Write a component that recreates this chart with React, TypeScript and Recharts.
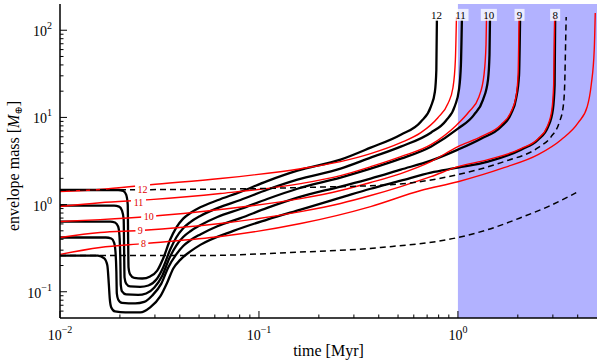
import React from 'react';
import { ComposedChart, Line, XAxis, YAxis, ReferenceArea, ReferenceDot, Label } from 'recharts';

// time [Myr] vs envelope mass [M_earth]
const black12: [number, number][] = [
  [0.01, 1.47], [0.0196, 1.47], [0.0208, 1.43], [0.0215, 1.3], [0.0219, 1.0], [0.022, 0.397],
  [0.0221, 0.19], [0.0225, 0.158], [0.0236, 0.144], [0.0259, 0.142], [0.0284, 0.15], [0.0308, 0.175],
  [0.033, 0.241], [0.0358, 0.397], [0.0384, 0.545], [0.0416, 0.691], [0.0452, 0.8], [0.0507, 0.93],
  [0.0618, 1.12], [0.0807, 1.4], [0.11, 1.86], [0.156, 2.45], [0.257, 3.28], [0.364, 4.5],
  [0.516, 6.34], [0.651, 8.93], [0.731, 13.3], [0.766, 19.7], [0.779, 35.2], [0.784, 132],
];
const black11: [number, number][] = [
  [0.01, 0.974], [0.0187, 0.974], [0.0198, 0.949], [0.0205, 0.854], [0.0209, 0.673], [0.021, 0.305],
  [0.0211, 0.146], [0.0215, 0.124], [0.0225, 0.115], [0.0253, 0.114], [0.0278, 0.118], [0.0305, 0.138],
  [0.033, 0.19], [0.0358, 0.305], [0.0384, 0.419], [0.0416, 0.535], [0.0452, 0.63], [0.0507, 0.74],
  [0.0618, 0.91], [0.0807, 1.13], [0.11, 1.48], [0.156, 1.93], [0.257, 2.58], [0.364, 3.45],
  [0.516, 4.62], [0.731, 6.68], [0.87, 9.17], [0.966, 13.6], [1.012, 20.8], [1.035, 40.1], [1.047, 132],
];
const black10: [number, number][] = [
  [0.01, 0.639], [0.0179, 0.639], [0.0189, 0.622], [0.0196, 0.56], [0.0199, 0.441], [0.0201, 0.234],
  [0.0202, 0.121], [0.0205, 0.101], [0.0215, 0.0931], [0.0247, 0.0919], [0.0271, 0.0956], [0.0298, 0.112],
  [0.0327, 0.154], [0.0354, 0.241], [0.0384, 0.339], [0.0416, 0.425], [0.0452, 0.495], [0.0507, 0.58],
  [0.0618, 0.72], [0.0807, 0.89], [0.11, 1.16], [0.156, 1.52], [0.257, 2.04], [0.364, 2.58],
  [0.516, 3.36], [0.731, 4.62], [1.0, 7.42], [1.204, 10.7], [1.336, 15.9], [1.416, 27.0], [1.441, 52.3],
  [1.449, 132],
];
const black9: [number, number][] = [
  [0.01, 0.419], [0.017, 0.419], [0.0181, 0.408], [0.0187, 0.367], [0.019, 0.289], [0.0192, 0.171],
  [0.0193, 0.0956], [0.0196, 0.0816], [0.0205, 0.0744], [0.0239, 0.0734], [0.0265, 0.0764], [0.0291, 0.0907],
  [0.0323, 0.124], [0.035, 0.19], [0.0384, 0.268], [0.0416, 0.335], [0.0452, 0.39], [0.0507, 0.455],
  [0.0618, 0.565], [0.0807, 0.7], [0.11, 0.915], [0.156, 1.2], [0.257, 1.61], [0.364, 1.99],
  [0.516, 2.52], [0.731, 3.19], [1.0, 4.27], [1.306, 5.7], [1.647, 7.83], [1.849, 11.0], [1.96, 16.4],
  [2.029, 30.8], [2.053, 132],
];
const black8: [number, number][] = [
  [0.01, 0.26], [0.0155, 0.26], [0.0167, 0.241], [0.0173, 0.2], [0.0176, 0.121], [0.0178, 0.0816],
  [0.0181, 0.0661], [0.0189, 0.0595], [0.0213, 0.0579], [0.0253, 0.0579], [0.0284, 0.0661], [0.0319, 0.0884],
  [0.0346, 0.128], [0.0371, 0.185], [0.0402, 0.232], [0.0452, 0.29], [0.0507, 0.345], [0.0744, 0.5],
  [0.11, 0.673], [0.162, 0.877], [0.257, 1.2], [0.364, 1.52], [0.516, 1.88], [0.731, 2.33],
  [1.0, 2.65], [1.416, 3.11], [2.077, 4.27], [2.529, 5.55], [2.841, 7.83], [3.0, 12.2], [3.063, 23.7],
  [3.081, 132],
];

const red12: [number, number][] = [
  [0.01, 1.41], [0.0159, 1.49], [0.0284, 1.69], [0.064, 1.99], [0.162, 2.58], [0.257, 3.11],
  [0.364, 3.84], [0.516, 5.13], [0.651, 6.68], [0.793, 9.92], [0.891, 14.4], [0.944, 21.9],
  [0.971, 45.8], [0.983, 142],
];
const red11: [number, number][] = [
  [0.01, 0.949], [0.0159, 1.05], [0.0284, 1.14], [0.064, 1.34], [0.162, 1.74], [0.257, 2.15],
  [0.364, 2.72], [0.516, 3.55], [0.731, 4.87], [0.977, 8.04], [1.136, 11.6], [1.276, 17.3],
  [1.352, 30.8], [1.384, 68.0], [1.392, 142],
];
const red10: [number, number][] = [
  [0.01, 0.639], [0.0159, 0.673], [0.0278, 0.729], [0.064, 0.877], [0.162, 1.17], [0.257, 1.45],
  [0.364, 1.79], [0.516, 2.27], [0.731, 3.11], [1.0, 4.62], [1.306, 6.01], [1.647, 8.25],
  [1.849, 11.6], [1.96, 17.3], [2.006, 30.8], [2.029, 142],
];
const red9: [number, number][] = [
  [0.01, 0.419], [0.0159, 0.478], [0.0253, 0.504], [0.064, 0.606], [0.162, 0.831], [0.257, 1.03],
  [0.364, 1.27], [0.516, 1.61], [0.731, 2.09], [1.0, 2.72], [1.416, 3.28], [2.077, 4.38],
  [2.529, 5.7], [2.808, 7.83], [2.965, 12.2], [3.028, 23.7], [3.063, 142],
];
const red8: [number, number][] = [
  [0.01, 0.268], [0.0159, 0.322], [0.0262, 0.357], [0.064, 0.43], [0.162, 0.606], [0.364, 0.949],
  [0.651, 1.45], [1.0, 1.83], [1.705, 2.65], [2.529, 3.74], [3.303, 5.55], [4.023, 8.7],
  [4.466, 13.3], [4.677, 23.7], [4.843, 59.6], [4.9, 158],
];

const dashUpper: [number, number][] = [
  [0.01, 1.47], [0.0906, 1.52], [0.162, 1.57], [0.46, 1.69], [1.0, 2.21], [1.705, 3.11],
  [2.529, 4.5], [2.942, 6.01], [3.227, 8.7], [3.381, 13.3], [3.44, 23.7], [3.48, 77.6], [3.5, 142],
];
const dashLower: [number, number][] = [
  [0.01, 0.26], [0.0507, 0.26], [0.144, 0.282], [0.409, 0.322], [1.0, 0.419], [1.416, 0.517],
  [2.077, 0.71], [2.841, 0.949], [3.931, 1.37],
];

const curveNames = ['12', '11', '10', '9', '8'];
const topLabelT = [0.78, 1.03, 1.43, 2.04, 3.08];
const topLabelM = 150;
const sideLabelT = [0.026, 0.0248, 0.0279, 0.0253, 0.0263];
const sideLabelM = [1.49, 1.05, 0.734, 0.508, 0.357];

const xTicks = [0.01, 0.02, 0.03, 0.04, 0.05, 0.06, 0.07, 0.08, 0.09, 0.1, 0.2, 0.3, 0.4, 0.5, 0.6, 0.7, 0.8, 0.9, 1, 2, 3, 4];
const yTicks = [0.06, 0.07, 0.08, 0.09, 0.1, 0.2, 0.3, 0.4, 0.5, 0.6, 0.7, 0.8, 0.9, 1, 2, 3, 4, 5, 6, 7, 8, 9,
  10, 20, 30, 40, 50, 60, 70, 80, 90, 100];

const FONT = "'Liberation Serif', 'Times New Roman', 'DejaVu Serif', serif";

const toPts = (arr: [number, number][]) => arr.map(([t, m]) => ({ t, m }));

const isMajor = (v: number) => {
  const l = Math.log10(v);
  return Math.abs(l - Math.round(l)) < 1e-6;
};
const expText = (v: number) => {
  const e = Math.round(Math.log10(v));
  return e < 0 ? '\u2212' + Math.abs(e) : String(e);
};

const BottomTick = (props: any) => {
  const { x, y, payload } = props;
  const maj = isMajor(payload.value);
  return (
    <g>
      <line x1={x} x2={x} y1={y} y2={y - (maj ? 7 : 3.5)} stroke="#000" strokeWidth={1} />
      {maj && (
        <text x={x} y={y + 22} textAnchor="middle" fontFamily={FONT} fontSize={14} fill="#000">
          10<tspan dy={-7} fontSize={10}>{expText(payload.value)}</tspan>
        </text>
      )}
    </g>
  );
};

const TopTick = (props: any) => {
  const { x, y, payload } = props;
  const maj = isMajor(payload.value);
  return <line x1={x} x2={x} y1={y} y2={y + (maj ? 7 : 3.5)} stroke="#000" strokeWidth={1} />;
};

const LeftTick = (props: any) => {
  const { x, y, payload } = props;
  const maj = isMajor(payload.value);
  return (
    <g>
      <line x1={x} x2={x + (maj ? 7 : 3.5)} y1={y} y2={y} stroke="#000" strokeWidth={1} />
      {maj && (
        <text x={x - 8} y={y + 6} textAnchor="end" fontFamily={FONT} fontSize={14} fill="#000">
          10<tspan dy={-7} fontSize={10}>{expText(payload.value)}</tspan>
        </text>
      )}
    </g>
  );
};

const RightTick = (props: any) => {
  const { x, y, payload } = props;
  const maj = isMajor(payload.value);
  return <line x1={x} x2={x - (maj ? 7 : 3.5)} y1={y} y2={y} stroke="#000" strokeWidth={1} />;
};

const tag = (text: string, color: string, fs: number, bgOpacity: number) => (p: any) => {
  const w = text.length * fs * 0.55 + 4;
  const h = fs + 1;
  return (
    <g>
      <rect x={p.cx - w / 2} y={p.cy - h / 2} width={w} height={h} fill="#fff" fillOpacity={bgOpacity} />
      <text x={p.cx} y={p.cy + fs * 0.35} textAnchor="middle" fontFamily={FONT} fontSize={fs} fill={color}>
        {text}
      </text>
    </g>
  );
};

const XTitle = (p: any) => {
  const vb = p.viewBox;
  return (
    <text x={vb.x + vb.width / 2} y={vb.y + 38} textAnchor="middle" fontFamily={FONT} fontSize={16} fill="#000">
      time [Myr]
    </text>
  );
};

const YTitle = () => {
  const cy = 166;
  const bx = 19;
  return (
    <text x={bx} y={cy} transform={`rotate(-90, ${bx}, ${cy})`} textAnchor="middle" fontFamily={FONT} fontSize={16} fill="#000">
      envelope mass [<tspan fontStyle="italic">M</tspan>
      <tspan fontSize={10} dy={3}>{'\u2295'}</tspan>
      <tspan dy={-3}>]</tspan>
    </text>
  );
};

const blackSeries = [black12, black11, black10, black9, black8];
const redSeries = [red12, red11, red10, red9, red8];

export default function App() {
  return (
    <div style={{ position: 'absolute', left: 0, top: 0, background: '#fff' }}>
      <ComposedChart width={600} height={362} margin={{ top: 4, right: 3, bottom: 0, left: 0 }}>
        <XAxis
          dataKey="t" type="number" scale="log" domain={[0.01, 5]} allowDataOverflow
          ticks={xTicks} interval={0} tick={<BottomTick />} tickLine={false} tickSize={0} tickMargin={0}
          height={44} axisLine={{ stroke: '#000', strokeWidth: 1.5 }}
        >
          <Label content={<XTitle />} />
        </XAxis>
        <XAxis
          xAxisId="top" orientation="top" dataKey="t" type="number" scale="log" domain={[0.01, 5]} allowDataOverflow
          ticks={xTicks} interval={0} tick={<TopTick />} tickLine={false} tickSize={0} tickMargin={0}
          height={0} axisLine={{ stroke: '#000', strokeWidth: 1.5 }}
        />
        <YAxis
          dataKey="m" type="number" scale="log" domain={[0.05, 200]} allowDataOverflow
          ticks={yTicks} interval={0} tick={<LeftTick />} tickLine={false} tickSize={0} tickMargin={0}
          width={60} axisLine={{ stroke: '#000', strokeWidth: 1.5 }}
        >
          <Label content={<YTitle />} />
        </YAxis>
        <YAxis
          yAxisId="right" orientation="right" dataKey="m" type="number" scale="log" domain={[0.05, 200]} allowDataOverflow
          ticks={yTicks} interval={0} tick={<RightTick />} tickLine={false} tickSize={0} tickMargin={0}
          width={0} axisLine={{ stroke: '#000', strokeWidth: 1.5 }}
        />

        <ReferenceArea x1={1} x2={5} fill="#0000ff" fillOpacity={0.3} stroke="none" ifOverflow="visible" />

        {blackSeries.map((s, i) => (
          <Line key={'b' + i} data={toPts(s)} dataKey="m" type="monotone" stroke="#000" strokeWidth={2.3}
            dot={false} activeDot={false} isAnimationActive={false} />
        ))}
        {redSeries.map((s, i) => (
          <Line key={'r' + i} data={toPts(s)} dataKey="m" type="monotone" stroke="#ff0000" strokeWidth={1.4}
            dot={false} activeDot={false} isAnimationActive={false} />
        ))}
        <Line data={toPts(dashUpper)} dataKey="m" type="monotone" stroke="#000" strokeWidth={1.5} strokeDasharray="6 4"
          dot={false} activeDot={false} isAnimationActive={false} />
        <Line data={toPts(dashLower)} dataKey="m" type="monotone" stroke="#000" strokeWidth={1.5} strokeDasharray="6 4"
          dot={false} activeDot={false} isAnimationActive={false} />

        {curveNames.map((n, i) => (
          <ReferenceDot key={'tl' + n} x={topLabelT[i]} y={topLabelM} r={0} shape={tag(n, '#000', 11, 0.75)} ifOverflow="visible" />
        ))}
        {curveNames.map((n, i) => (
          <ReferenceDot key={'sl' + n} x={sideLabelT[i]} y={sideLabelM[i]} r={0} shape={tag(n, '#e00000', 10, 1)} ifOverflow="visible" />
        ))}
      </ComposedChart>
    </div>
  );
}
